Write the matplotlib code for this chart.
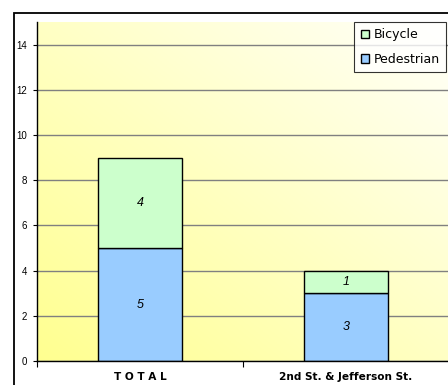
import numpy as np
import matplotlib
matplotlib.use("Agg")
import matplotlib.pyplot as plt
from matplotlib.patches import Rectangle, Patch
from matplotlib.colors import LinearSegmentedColormap

plt.rcParams['font.family'] = ['Liberation Sans', 'DejaVu Sans']

categories = ["T O T A L", "2nd St. & Jefferson St."]
pedestrian = [5, 3]
bicycle = [4, 1]
yticks = [0, 2, 4, 6, 8, 10, 12, 14]

W, H = 448, 385
fig = plt.figure(figsize=(W / 100, H / 100), dpi=100)
fig.patch.set_facecolor("white")

# outer chart frame
fig.patches.append(Rectangle((13.5 / W, -0.05), 1.0, (H - 12.5) / H + 0.05,
                             transform=fig.transFigure, fill=False,
                             edgecolor="#000000", linewidth=1.3, zorder=0))

ax = fig.add_axes([37 / W, (H - 361) / H, 412 / W, (361 - 22) / H])
ax.set_xlim(-0.5, 1.5)
ax.set_ylim(0, 15)

# diagonal yellow-to-white gradient in the plot area
cmap = LinearSegmentedColormap.from_list("bg", ["#FFFF90", "#FFFFC4", "#FFFFFA"])
gx, gy = np.meshgrid(np.linspace(0, 1, 200), np.linspace(0, 1, 200))
grad = (gx + gy) / 2
ax.imshow(grad, cmap=cmap, origin="lower", extent=(-0.5, 1.5, 0, 15),
          aspect="auto", zorder=0, vmin=0, vmax=1)

for y in yticks:
    ax.axhline(y, color="#808080", linewidth=1.0, zorder=1)

x = np.arange(len(categories))
width = 0.41
ax.bar(x, pedestrian, width, color="#99CCFF", edgecolor="#000000",
       linewidth=1.0, zorder=2, label="Pedestrian")
ax.bar(x, bicycle, width, bottom=pedestrian, color="#CCFFCC",
       edgecolor="#000000", linewidth=1.0, zorder=2, label="Bicycle")

for i in range(len(categories)):
    ax.text(x[i], pedestrian[i] / 2, str(pedestrian[i]), ha="center",
            va="center", fontsize=9, style="italic", zorder=3)
    ax.text(x[i], pedestrian[i] + bicycle[i] / 2, str(bicycle[i]),
            ha="center", va="center", fontsize=9, style="italic", zorder=3)

for s in ["top", "right"]:
    ax.spines[s].set_visible(False)
ax.spines["left"].set_linewidth(1.0)
ax.spines["bottom"].set_linewidth(1.0)

ax.set_yticks(yticks)
ax.set_yticklabels([str(v) for v in yticks], fontsize=7)
ax.tick_params(axis="y", length=3, width=0.8, pad=4, direction="out")

ax.set_xticks([-0.5, 0.5, 1.5])
ax.set_xticklabels([])
ax.tick_params(axis="x", length=4, width=0.8, direction="out")
for i, c in enumerate(categories):
    ax.text(x[i], -0.72, c, ha="center", va="center", fontsize=7.6,
            fontweight="bold", family="DejaVu Sans", transform=ax.transData)

leg = ax.legend(handles=[Patch(facecolor="#CCFFCC", edgecolor="black", label="Bicycle"),
                         Patch(facecolor="#99CCFF", edgecolor="black", label="Pedestrian")],
                loc="upper right", bbox_to_anchor=(409 / 412, 1.0),
                prop={"family": "DejaVu Sans", "size": 9}, frameon=True, fancybox=False,
                handlelength=0.7, handleheight=0.7, handletextpad=0.35,
                labelspacing=0.95, borderpad=0.5, borderaxespad=0)
leg.get_frame().set_edgecolor("black")
leg.get_frame().set_linewidth(0.8)

fig.savefig("out.png", dpi=100)
